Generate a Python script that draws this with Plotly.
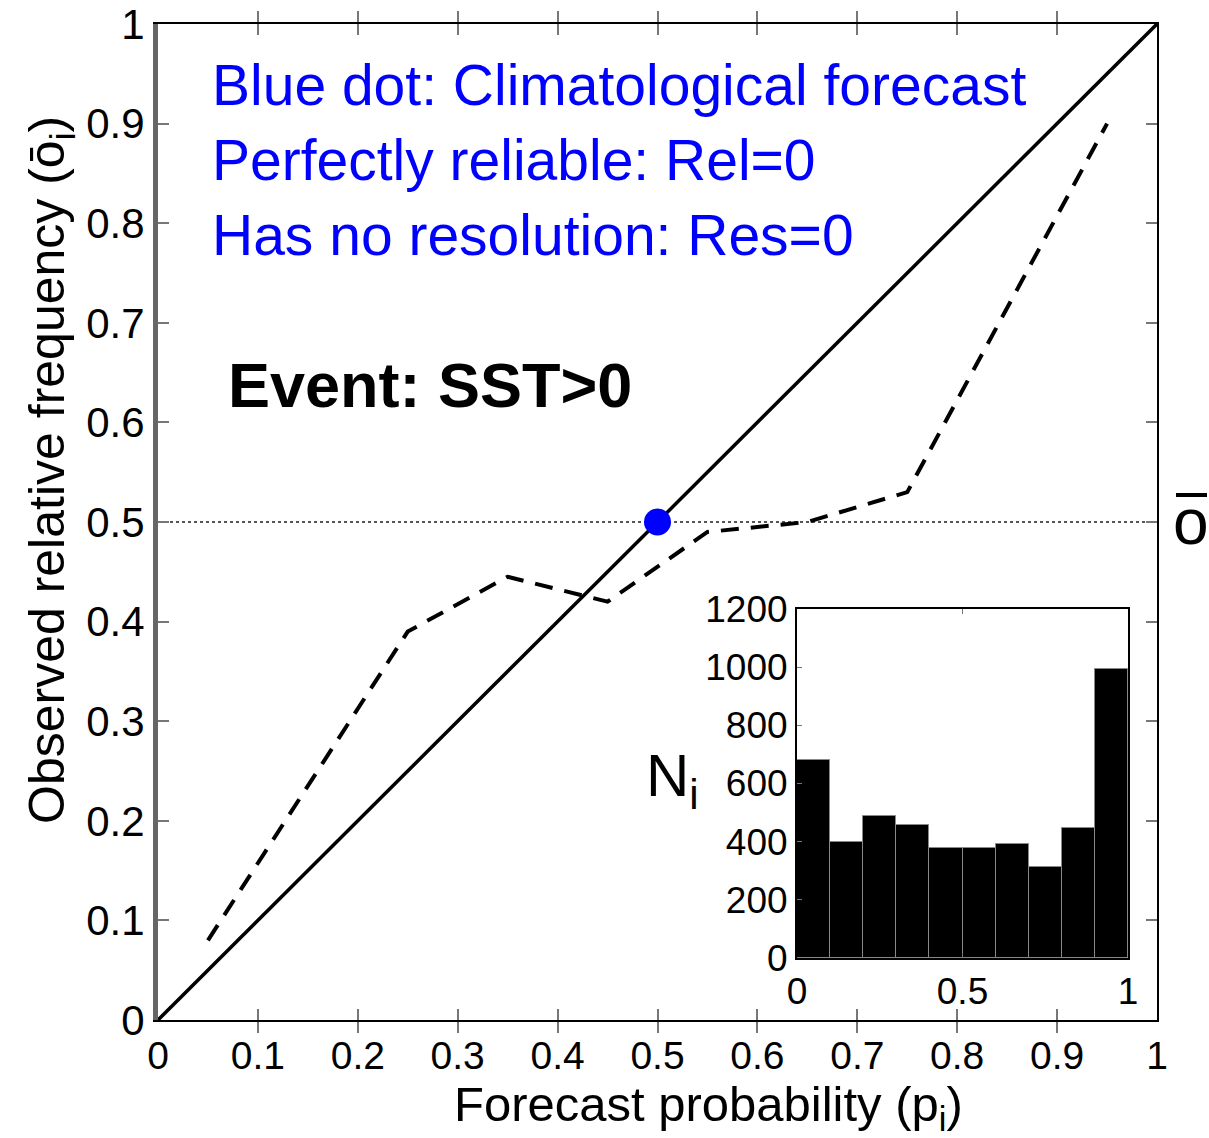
import plotly.graph_objects as go

# ---- data ----
diag_x = [0, 1]
diag_y = [0, 1]
bin_centers = [0.05, 0.15, 0.25, 0.35, 0.45, 0.55, 0.65, 0.75, 0.85, 0.95]
obs_freq = [0.08, 0.235, 0.39, 0.445, 0.42, 0.49, 0.50, 0.53, 0.715, 0.90]
clim_x = [0.5]
clim_y = [0.5]
counts = [680, 400, 488, 457, 378, 378, 392, 313, 447, 994]
main_ticks = [0, 0.1, 0.2, 0.3, 0.4, 0.5, 0.6, 0.7, 0.8, 0.9, 1]
inset_yticks = [0, 200, 400, 600, 800, 1000, 1200]
inset_xticks = [0, 0.5, 1]

W, H = 1209, 1138
L, R, T, B = 158, 52, 24, 118
pw, ph = W - L - R, H - T - B

def px(x):  # pixel -> paper x
    return (x - L) / pw

def py(y):  # pixel -> paper y
    return (H - B - y) / ph

fig = go.Figure()

# climatology dotted line
fig.add_trace(go.Scatter(x=[0, 1], y=[clim_y[0], clim_y[0]], mode="lines",
                         line=dict(color="#555555", width=2, dash="dot"),
                         hoverinfo="skip", showlegend=False))
# perfect reliability diagonal
fig.add_trace(go.Scatter(x=diag_x, y=diag_y, mode="lines",
                         line=dict(color="black", width=3.5), showlegend=False))
# reliability curve
fig.add_trace(go.Scatter(x=bin_centers, y=obs_freq, mode="lines",
                         line=dict(color="black", width=4, dash="18px,12px"),
                         showlegend=False))
# climatological point
fig.add_trace(go.Scatter(x=clim_x, y=clim_y, mode="markers",
                         marker=dict(color="#0000FF", size=27), showlegend=False))

# inset histogram
fig.add_trace(go.Bar(x=bin_centers, y=counts, width=0.1,
                     marker=dict(color="black", line=dict(color="#888888", width=1)),
                     xaxis="x3", yaxis="y3", showlegend=False))

# right-side axis for mirrored ticks (black line)
fig.add_trace(go.Scatter(x=[0], y=[0], mode="markers", marker=dict(opacity=0),
                         yaxis="y2", showlegend=False, hoverinfo="skip"))

tickfont_y = dict(family="Liberation Sans, Arial", size=42, color="black")
tickfont_x = dict(family="Liberation Sans, Arial", size=39, color="black")
inset_font = dict(family="Liberation Sans, Arial", size=37, color="black")

fig.update_layout(
    width=W, height=H,
    margin=dict(l=L, r=R, t=T, b=B),
    paper_bgcolor="white", plot_bgcolor="white",
    xaxis=dict(range=[0, 1], tickvals=main_ticks, ticks="inside", ticklen=11,
               tickwidth=2, tickcolor="#777777", showline=True, linecolor="black",
               linewidth=2, mirror="allticks", showgrid=False, zeroline=False,
               tickfont=tickfont_x, automargin=False),
    yaxis=dict(range=[0, 1], tickvals=main_ticks, ticks="inside", ticklen=11,
               tickwidth=2, tickcolor="#777777", showline=True, linecolor="#666666",
               linewidth=5, mirror=False, showgrid=False, zeroline=False,
               tickfont=tickfont_y, ticklabelstandoff=0, automargin=False),
    yaxis2=dict(range=[0, 1], tickvals=main_ticks, overlaying="y", side="right",
                ticks="inside", ticklen=11, tickwidth=2, tickcolor="#777777",
                showline=True, linecolor="black", linewidth=2, showticklabels=False,
                showgrid=False, zeroline=False, automargin=False),
    xaxis3=dict(domain=[px(797), px(1128)], anchor="y3", range=[0, 1],
                tickvals=inset_xticks, ticktext=["0", "0.5", "1"], ticks="inside",
                ticklen=5, tickcolor="#777777", showline=True, linecolor="black",
                linewidth=2, mirror="allticks", showgrid=False, zeroline=False,
                tickfont=inset_font, automargin=False),
    yaxis3=dict(domain=[py(958), py(609)], anchor="x3", range=[0, 1200],
                tickvals=inset_yticks, ticks="inside", ticklen=5, tickcolor="#777777",
                showline=True, linecolor="black", linewidth=2, mirror=True,
                showgrid=False, zeroline=False, tickfont=inset_font,
                automargin=False),
    bargap=0,
)

blue_font = dict(family="Liberation Sans, Arial", size=57, color="#0000FF")
ann = []
for txt, ypix in [("Blue dot: Climatological forecast", 85),
                  ("Perfectly reliable: Rel=0", 160),
                  ("Has no resolution: Res=0", 235)]:
    ann.append(dict(x=px(210), y=py(ypix), xref="paper", yref="paper", text=txt,
                    showarrow=False, xanchor="left", yanchor="middle", font=blue_font))
ann.append(dict(x=px(226), y=py(385), xref="paper", yref="paper",
                text="<b>Event: SST>0</b>", showarrow=False, xanchor="left",
                yanchor="middle",
                font=dict(family="Liberation Sans, Arial", size=63, color="black")))
ann.append(dict(x=px(708), y=py(1107), xref="paper", yref="paper",
                text="Forecast probability (p<sub>i</sub>)", showarrow=False,
                xanchor="center", yanchor="middle",
                font=dict(family="Liberation Sans, Arial", size=49, color="black")))
ann.append(dict(x=px(50), y=py(470), xref="paper", yref="paper",
                text="Observed relative frequency (ō<sub>i</sub>)", showarrow=False,
                textangle=-90, xanchor="center", yanchor="middle",
                font=dict(family="Liberation Sans, Arial", size=50, color="black")))
ann.append(dict(x=px(1191), y=py(522), xref="paper", yref="paper",
                text="o", showarrow=False, xanchor="center", yanchor="middle",
                font=dict(family="Liberation Sans, Arial", size=64, color="black")))
ann.append(dict(x=px(672), y=py(780), xref="paper", yref="paper",
                text="N<sub>i</sub>", showarrow=False, xanchor="center",
                yanchor="middle",
                font=dict(family="Liberation Sans, Arial", size=60, color="black")))
fig.update_layout(annotations=ann)

# overline for the o-bar label
fig.add_shape(type="line", xref="paper", yref="paper",
              x0=px(1176), x1=px(1207), y0=py(495), y1=py(495),
              line=dict(color="black", width=4))

fig.write_html("out.html")
